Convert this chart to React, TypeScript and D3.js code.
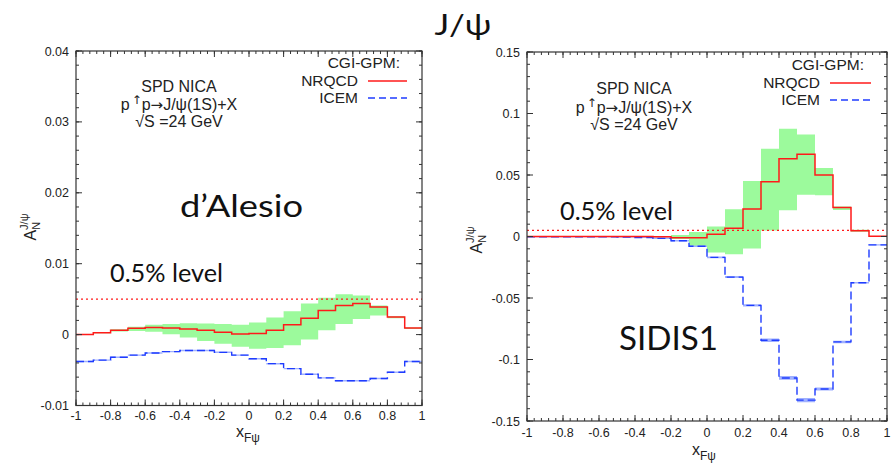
import React from 'react';
import * as d3 from 'd3';

// ---------- DATA ----------
const binEdges = [-1, -0.9, -0.8, -0.7, -0.6, -0.5, -0.4, -0.3, -0.2, -0.1, 0, 0.1, 0.2, 0.3, 0.4, 0.5, 0.6, 0.7, 0.8, 0.9, 1];

const xTicks = [-1, -0.8, -0.6, -0.4, -0.2, 0, 0.2, 0.4, 0.6, 0.8, 1];
const xTickLabels = ['-1', '-0.8', '-0.6', '-0.4', '-0.2', '0', '0.2', '0.4', '0.6', '0.8', '1'];

const yTicksL = [-0.01, 0, 0.01, 0.02, 0.03, 0.04];
const yTickLabelsL = ['-0.01', '0', '0.01', '0.02', '0.03', '0.04'];
const yTicksR = [-0.15, -0.1, -0.05, 0, 0.05, 0.1, 0.15];
const yTickLabelsR = ['-0.15', '-0.1', '-0.05', '0', '0.05', '0.1', '0.15'];

const levelValue = 0.005;

// Left panel (d'Alesio)
const nrqcdL = [0.0, 0.00025, 0.0006, 0.0009, 0.001, 0.00094, 0.0008, 0.0006, 0.00033, 0.0001, 0.00014, 0.0006, 0.0014, 0.0023, 0.0034, 0.0041, 0.0044, 0.0039, 0.0025, 0.00094];
const bandLoL = [0.0, 0.0002, 0.00045, 0.0005, 0.0004, 0.00005, -0.0004, -0.0009, -0.0013, -0.0017, -0.002, -0.0019, -0.0015, -0.0007, 0.0006, 0.0015, 0.0022, 0.0027, 0.0023, 0.0008];
const bandHiL = [0.0, 0.0003, 0.00075, 0.0011, 0.0014, 0.0015, 0.0016, 0.00155, 0.0015, 0.0014, 0.0017, 0.0024, 0.0033, 0.0044, 0.0052, 0.0057, 0.0055, 0.0041, 0.0026, 0.001];
const icemL = [-0.0038, -0.0036, -0.0032, -0.0029, -0.0026, -0.0024, -0.00225, -0.00225, -0.0025, -0.0029, -0.0034, -0.0041, -0.0048, -0.0056, -0.0061, -0.0065, -0.0065, -0.0062, -0.0053, -0.0038];
const icemErrL = [0.0001, 0.0001, 0.0001, 0.0001, 0.0001, 0.0001, 0.0001, 0.0001, 0.0001, 0.0001, 0.0001, 0.0001, 0.0001, 0.0001, 0.0001, 0.0001, 0.0001, 0.0001, 0.0001, 0.0001];

// Right panel (SIDIS1)
const nrqcdR = [0, 0, 0, 0, 0, 0, 0, -0.0003, -0.001, -0.001, 0.0019, 0.0068, 0.0224, 0.0446, 0.0632, 0.0668, 0.05, 0.0235, 0.0046, 0.0003];
const bandLoR = [0, 0, 0, 0, 0, 0, 0, -0.0008, -0.002, -0.0085, -0.013, -0.0145, -0.0097, 0.0048, 0.0214, 0.034, 0.0335, 0.0215, 0.0038, 0];
const bandHiR = [0, 0, 0, 0, 0, 0, 0, 0.0003, 0.0012, 0.0037, 0.0082, 0.0222, 0.0452, 0.0714, 0.0876, 0.083, 0.0557, 0.0243, 0.0054, 0.0005];
const icemR = [-0.0002, -0.0002, -0.0002, -0.0002, -0.0003, -0.0005, -0.0008, -0.0015, -0.0035, -0.0079, -0.017, -0.033, -0.056, -0.0843, -0.115, -0.133, -0.124, -0.0857, -0.0376, -0.0068];
const icemErrR = [0.0004, 0.0004, 0.0004, 0.0004, 0.0004, 0.0004, 0.0005, 0.0006, 0.0006, 0.0006, 0.0007, 0.0008, 0.001, 0.0014, 0.0015, 0.0018, 0.0012, 0.001, 0.0007, 0.0005];

// ---------- STYLE ----------
const RED = '#ff1a1a';
const BLUE = '#1f3cff';
const GREEN = '#9cfa9c';
const LIGHTBLUE = '#9fb0ff';
const AXIS = '#333';
const SANS = '"Liberation Sans", Arial, Helvetica, sans-serif';
const SYM = '"DejaVu Sans", sans-serif';
const BIG = 'Lato, "Open Sans", sans-serif';

type PanelProps = {
  id: string;
  x0: number; x1: number; yTop: number; yBot: number;
  yDomain: [number, number];
  yTicks: number[]; yTickLabels: string[]; yMinor: number;
  nrqcd: number[]; bandLo: number[]; bandHi: number[]; icem: number[]; icemErr: number[];
  xTickBase: number;
  info: { cx: number; b1: number; b2: number; b3: number };
  legend: { right: number; lineX0: number; lineX1: number; b1: number; b2: number; b3: number };
  yLabel: { cx: number; cy: number };
  xLabel: { x: number; base: number };
};

function stepPoints(vals: number[]): [number, number][] {
  const pts: [number, number][] = vals.map((v, i) => [binEdges[i], v]);
  pts.push([binEdges[binEdges.length - 1], vals[vals.length - 1]]);
  return pts;
}

function Panel(p: PanelProps) {
  const xs = d3.scaleLinear().domain([-1, 1]).range([p.x0, p.x1]);
  const ys = d3.scaleLinear().domain(p.yDomain).range([p.yBot, p.yTop]);

  const line = d3.line<[number, number]>().x(d => xs(d[0])).y(d => ys(d[1])).curve(d3.curveStepAfter);
  const band = (lo: number[], hi: number[]) =>
    d3.area<number>()
      .x(i => xs(binEdges[Math.min(i, binEdges.length - 1)]))
      .y0(i => ys(lo[Math.min(i, lo.length - 1)]))
      .y1(i => ys(hi[Math.min(i, hi.length - 1)]))
      .curve(d3.curveStepAfter)(d3.range(binEdges.length)) as string;

  const icemLo = p.icem.map((v, i) => v - p.icemErr[i]);
  const icemHi = p.icem.map((v, i) => v + p.icemErr[i]);

  const xMinor = d3.range(-1, 1.0001, 0.04);
  const yMinor = d3.range(p.yDomain[0], p.yDomain[1] + p.yMinor / 10, p.yMinor);
  const MAJ = 6, MIN = 3;

  return (
    <g>
      <defs>
        <clipPath id={`clip-${p.id}`}>
          <rect x={p.x0} y={p.yTop} width={p.x1 - p.x0} height={p.yBot - p.yTop} />
        </clipPath>
      </defs>
      <g clipPath={`url(#clip-${p.id})`}>
        <path d={band(p.bandLo, p.bandHi)} fill={GREEN} stroke="none" />
        <path d={band(icemLo, icemHi)} fill={LIGHTBLUE} stroke="none" />
        <line x1={p.x0} x2={p.x1} y1={ys(levelValue)} y2={ys(levelValue)} stroke={RED} strokeWidth={1.4} strokeDasharray="2,3" />
        <path d={line(stepPoints(p.icem)) as string} fill="none" stroke={BLUE} strokeWidth={1.4} strokeDasharray="8,4" />
        <path d={line(stepPoints(p.nrqcd)) as string} fill="none" stroke={RED} strokeWidth={1.5} />
      </g>
      {/* frame */}
      <rect x={p.x0} y={p.yTop} width={p.x1 - p.x0} height={p.yBot - p.yTop} fill="none" stroke={AXIS} strokeWidth={1.2} />
      {/* x ticks */}
      {xMinor.map((v, i) => (
        <g key={`xm${i}`}>
          <line x1={xs(v)} x2={xs(v)} y1={p.yBot} y2={p.yBot - MIN} stroke={AXIS} />
          <line x1={xs(v)} x2={xs(v)} y1={p.yTop} y2={p.yTop + MIN} stroke={AXIS} />
        </g>
      ))}
      {xTicks.map((v, i) => (
        <g key={`xM${i}`}>
          <line x1={xs(v)} x2={xs(v)} y1={p.yBot} y2={p.yBot - MAJ} stroke={AXIS} />
          <line x1={xs(v)} x2={xs(v)} y1={p.yTop} y2={p.yTop + MAJ} stroke={AXIS} />
          <text x={xs(v)} y={p.xTickBase} textAnchor="middle" fontFamily={SANS} fontSize={12.5} fill="#222">{xTickLabels[i]}</text>
        </g>
      ))}
      {/* y ticks */}
      {yMinor.map((v, i) => (
        <g key={`ym${i}`}>
          <line x1={p.x0} x2={p.x0 + MIN} y1={ys(v)} y2={ys(v)} stroke={AXIS} />
          <line x1={p.x1} x2={p.x1 - MIN} y1={ys(v)} y2={ys(v)} stroke={AXIS} />
        </g>
      ))}
      {p.yTicks.map((v, i) => (
        <g key={`yM${i}`}>
          <line x1={p.x0} x2={p.x0 + MAJ} y1={ys(v)} y2={ys(v)} stroke={AXIS} />
          <line x1={p.x1} x2={p.x1 - MAJ} y1={ys(v)} y2={ys(v)} stroke={AXIS} />
          <text x={p.x0 - 7} y={ys(v) + 4.5} textAnchor="end" fontFamily={SANS} fontSize={12.5} fill="#222">{p.yTickLabels[i]}</text>
        </g>
      ))}
      {/* info text */}
      <g fontFamily={SANS} fontSize={16} fill="#222" textAnchor="middle">
        <text x={p.info.cx} y={p.info.b1}>SPD NICA</text>
        <text x={p.info.cx} y={p.info.b2}>p<tspan fontFamily={SYM} fontSize={12} dy={-6} dx={2}>↑</tspan><tspan dy={6}>p</tspan><tspan fontFamily={SYM} fontSize={15}>→</tspan><tspan>J/ψ(1S)+X</tspan></text>
        <text x={p.info.cx} y={p.info.b3}>√S =24 GeV</text>
      </g>
      {/* legend */}
      <g fontFamily={SANS} fontSize={15.5} fill="#222" textAnchor="end">
        <text x={p.legend.right} y={p.legend.b1}>CGI-GPM:</text>
        <text x={p.legend.lineX0 - 10} y={p.legend.b2}>NRQCD</text>
        <text x={p.legend.lineX0 - 10} y={p.legend.b3}>ICEM</text>
      </g>
      <line x1={p.legend.lineX0} x2={p.legend.lineX1} y1={p.legend.b2 - 5} y2={p.legend.b2 - 5} stroke={RED} strokeWidth={1.5} />
      <line x1={p.legend.lineX0} x2={p.legend.lineX1} y1={p.legend.b3 - 5} y2={p.legend.b3 - 5} stroke={BLUE} strokeWidth={1.4} strokeDasharray="7,4" />
      {/* y axis label */}
      <text transform={`translate(${p.yLabel.cx},${p.yLabel.cy}) rotate(-90)`} textAnchor="middle" fontFamily={SANS} fontSize={16} fill="#222">
        A<tspan fontSize={11} dy={4}>N</tspan><tspan fontSize={11} dx={-8} dy={-12}>J/ψ</tspan>
      </text>
      {/* x axis label */}
      <text x={p.xLabel.x} y={p.xLabel.base} fontFamily={SANS} fontSize={16} fill="#222">
        x<tspan fontSize={12} dy={5}>Fψ</tspan>
      </text>
    </g>
  );
}

export default function App() {
  return (
    <svg width={894} height={464} style={{ position: 'absolute', left: 0, top: 0, background: '#fff' }}>
      <rect x={0} y={0} width={894} height={464} fill="#fff" />
      <text x={463} y={35} textAnchor="middle" fontFamily={BIG} fontSize={28} fill="#111" textLength={57} lengthAdjust="spacingAndGlyphs">J/ψ</text>

      <Panel
        id="L" x0={76} x1={422} yTop={51} yBot={405.5}
        yDomain={[-0.01, 0.04]} yTicks={yTicksL} yTickLabels={yTickLabelsL} yMinor={0.002}
        nrqcd={nrqcdL} bandLo={bandLoL} bandHi={bandHiL} icem={icemL} icemErr={icemErrL}
        xTickBase={420}
        info={{ cx: 179, b1: 92, b2: 110, b3: 127 }}
        legend={{ right: 400, lineX0: 368, lineX1: 407, b1: 68, b2: 86, b3: 103 }}
        yLabel={{ cx: 36, cy: 227 }}
        xLabel={{ x: 236, base: 437 }}
      />
      <Panel
        id="R" x0={527} x1={887} yTop={52} yBot={421}
        yDomain={[-0.15, 0.15]} yTicks={yTicksR} yTickLabels={yTickLabelsR} yMinor={0.01}
        nrqcd={nrqcdR} bandLo={bandLoR} bandHi={bandHiR} icem={icemR} icemErr={icemErrR}
        xTickBase={437}
        info={{ cx: 634, b1: 94, b2: 113, b3: 130 }}
        legend={{ right: 864, lineX0: 830, lineX1: 871, b1: 70, b2: 88, b3: 105 }}
        yLabel={{ cx: 482, cy: 240 }}
        xLabel={{ x: 692, base: 455 }}
      />

      <g fontFamily={BIG} fill="#111">
        <text x={180} y={217} fontSize={31} textLength={123} lengthAdjust="spacingAndGlyphs">d’Alesio</text>
        <text x={110} y={282} fontSize={25} textLength={113} lengthAdjust="spacingAndGlyphs">0.5% level</text>
        <text x={560} y={220} fontSize={25} textLength={113} lengthAdjust="spacingAndGlyphs">0.5% level</text>
        <text x={619} y={350} fontSize={32} textLength={99} lengthAdjust="spacingAndGlyphs">SIDIS1</text>
      </g>
    </svg>
  );
}
